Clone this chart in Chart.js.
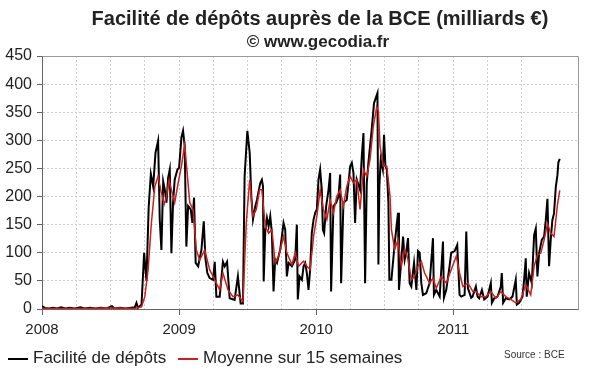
<!DOCTYPE html>
<html lang="fr">
<head>
<meta charset="utf-8">
<title>Facilité de dépôts auprès de la BCE</title>
<script src="https://cdn.jsdelivr.net/npm/chart.js"></script>
<style>
    body { margin: 0; background: #fff; }
    #wrap { position: relative; width: 600px; height: 372px; overflow: hidden;
            font-family: "Liberation Sans", Arial, sans-serif; color: #222; }
    #chart { position: absolute; left: 0; top: 0; }
    .title { position: absolute; left: 40px; width: 560px; top: 6px; text-align: center;
             font-weight: bold; font-size: 20px; line-height: 24px; white-space: nowrap; }
    .subtitle { position: absolute; left: 36px; width: 564px; top: 32px; text-align: center;
                font-weight: bold; font-size: 17px; line-height: 20px; white-space: nowrap; }
    #legend { position: absolute; left: 8px; top: 348px; font-size: 17px; line-height: 20px; white-space: nowrap; }
    #legend .item { display: inline-block; }
    #legend .item + .item { margin-left: 7px; }
    #legend i { display: inline-block; width: 20px; height: 2px; vertical-align: middle; margin-right: 5px; }
    .source { position: absolute; left: 504px; top: 348px; font-size: 10px; line-height: 14px; color: #333; }
</style>
</head>
<body>
<div id="wrap">
    <canvas id="chart" width="600" height="372"></canvas>
    <div class="title">Facilité de dépôts auprès de la BCE (milliards €)</div>
    <div class="subtitle">© www.gecodia.fr</div>
    <div id="legend">
        <span class="item"><i style="background:#000"></i>Facilité de dépôts</span>
        <span class="item"><i style="background:#cc1f1f"></i>Moyenne sur 15 semaines</span>
    </div>
    <div class="source">Source : BCE</div>
</div>
<script>
// dates en années décimales, valeurs en milliards d'euros
const depotYears = [
    2008.000, 2008.020, 2008.050, 2008.080, 2008.110, 2008.140, 2008.170, 2008.200, 2008.240, 2008.280,
    2008.310, 2008.350, 2008.390, 2008.430, 2008.470, 2008.510, 2008.530, 2008.570, 2008.610, 2008.640,
    2008.677, 2008.689, 2008.700, 2008.726, 2008.745, 2008.762, 2008.778, 2008.794, 2008.811, 2008.828,
    2008.847, 2008.859, 2008.871, 2008.884, 2008.896, 2008.908, 2008.920, 2008.932, 2008.944, 2008.956,
    2008.968, 2008.988, 2009.000, 2009.017, 2009.029, 2009.041, 2009.053, 2009.066, 2009.085, 2009.097,
    2009.109, 2009.121, 2009.139, 2009.163, 2009.180, 2009.192, 2009.206, 2009.223, 2009.248, 2009.260,
    2009.272, 2009.296, 2009.320, 2009.333, 2009.350, 2009.369, 2009.405, 2009.429, 2009.449, 2009.466,
    2009.478, 2009.498, 2009.515, 2009.527, 2009.539, 2009.556, 2009.568, 2009.592, 2009.604, 2009.612,
    2009.617, 2009.629, 2009.641, 2009.653, 2009.665, 2009.677, 2009.689, 2009.701, 2009.714, 2009.738,
    2009.762, 2009.774, 2009.786, 2009.799, 2009.823, 2009.847, 2009.859, 2009.866, 2009.879, 2009.896,
    2009.908, 2009.920, 2009.932, 2009.944, 2009.956, 2009.968, 2009.981, 2009.993, 2010.005, 2010.017,
    2010.029, 2010.041, 2010.049, 2010.058, 2010.073, 2010.090, 2010.102, 2010.109, 2010.126, 2010.146,
    2010.163, 2010.175, 2010.182, 2010.199, 2010.223, 2010.248, 2010.260, 2010.272, 2010.284, 2010.296,
    2010.320, 2010.333, 2010.345, 2010.357, 2010.369, 2010.381, 2010.405, 2010.422, 2010.430, 2010.447,
    2010.454, 2010.461, 2010.471, 2010.486, 2010.495, 2010.505, 2010.515, 2010.527, 2010.534, 2010.549,
    2010.573, 2010.597, 2010.604, 2010.621, 2010.634, 2010.646, 2010.658, 2010.670, 2010.682, 2010.694,
    2010.714, 2010.731, 2010.743, 2010.755, 2010.767, 2010.779, 2010.803, 2010.828, 2010.852, 2010.859,
    2010.876, 2010.901, 2010.925, 2010.932, 2010.949, 2010.973, 2010.985, 2011.010, 2011.029, 2011.046,
    2011.058, 2011.083, 2011.095, 2011.107, 2011.131, 2011.141, 2011.165, 2011.177, 2011.189, 2011.209,
    2011.226, 2011.250, 2011.274, 2011.282, 2011.299, 2011.323, 2011.347, 2011.354, 2011.364, 2011.383,
    2011.408, 2011.432, 2011.456, 2011.464, 2011.481, 2011.505, 2011.517, 2011.529, 2011.536, 2011.553,
    2011.573, 2011.590, 2011.602, 2011.614, 2011.626, 2011.646, 2011.663, 2011.675, 2011.687, 2011.699,
    2011.711, 2011.723, 2011.735, 2011.748, 2011.760, 2011.767, 2011.777
];
const depotValues = [
    5, 2, 1, 2, 1, 3, 1, 2, 1, 3,
    1, 2, 1, 2, 1, 5, 1, 2, 1, 2,
    3, 11, 2, 8, 100, 50, 180, 240, 218, 278,
    299, 159, 105, 227, 212, 189, 233, 248, 99, 189,
    230, 248, 251, 305, 317, 290, 111, 183, 177, 153,
    198, 82, 76, 105, 156, 90, 64, 55, 52, 84,
    22, 22, 84, 76, 84, 19, 16, 58, 10, 10,
    236, 317, 278, 200, 159, 183, 194, 224, 230, 218,
    49, 141, 162, 147, 165, 135, 31, 88, 82, 106,
    153, 141, 58, 82, 76, 88, 150, 17, 58, 52,
    76, 82, 64, 34, 70, 135, 159, 171, 177, 230,
    248, 212, 141, 135, 183, 212, 242, 31, 183, 189,
    200, 239, 46, 189, 194, 254, 260, 242, 153, 230,
    212, 272, 313, 46, 224, 260, 319, 366, 372, 384,
    79, 218, 266, 248, 310, 254, 248, 189, 52, 52,
    117, 171, 34, 88, 129, 88, 103, 126, 46, 40,
    82, 34, 103, 100, 46, 25, 28, 46, 126, 25,
    34, 22, 120, 20, 34, 76, 100, 103, 114, 25,
    22, 25, 138, 37, 20, 22, 40, 22, 19, 34,
    17, 22, 46, 11, 19, 22, 40, 64, 11, 19,
    17, 22, 52, 8, 11, 22, 52, 90, 22, 64,
    46, 132, 143, 58, 99, 123, 129, 158, 196, 76,
    123, 158, 170, 217, 238, 261, 267
];

const moyenneYears = [
    2008.000, 2008.300, 2008.500, 2008.677, 2008.726, 2008.750, 2008.774, 2008.798, 2008.823, 2008.847,
    2008.866, 2008.891, 2008.908, 2008.927, 2008.944, 2008.968, 2008.993, 2009.017, 2009.041, 2009.061,
    2009.078, 2009.102, 2009.126, 2009.150, 2009.187, 2009.223, 2009.260, 2009.296, 2009.320, 2009.357,
    2009.393, 2009.429, 2009.466, 2009.490, 2009.515, 2009.539, 2009.563, 2009.587, 2009.604, 2009.629,
    2009.653, 2009.677, 2009.701, 2009.726, 2009.762, 2009.786, 2009.823, 2009.847, 2009.871, 2009.908,
    2009.932, 2009.956, 2009.981, 2010.005, 2010.029, 2010.053, 2010.078, 2010.102, 2010.126, 2010.150,
    2010.175, 2010.199, 2010.223, 2010.248, 2010.272, 2010.296, 2010.320, 2010.345, 2010.369, 2010.393,
    2010.417, 2010.442, 2010.454, 2010.466, 2010.490, 2010.515, 2010.539, 2010.549, 2010.573, 2010.597,
    2010.621, 2010.646, 2010.670, 2010.694, 2010.719, 2010.743, 2010.767, 2010.791, 2010.828, 2010.852,
    2010.876, 2010.913, 2010.949, 2010.985, 2011.022, 2011.046, 2011.070, 2011.107, 2011.143, 2011.165,
    2011.201, 2011.238, 2011.274, 2011.311, 2011.347, 2011.383, 2011.420, 2011.456, 2011.493, 2011.529,
    2011.565, 2011.590, 2011.614, 2011.638, 2011.663, 2011.687, 2011.711, 2011.735, 2011.760, 2011.777
];
const moyenneValues = [
    1, 1, 2, 1, 4, 22, 70, 153, 218, 236,
    212, 186, 200, 230, 212, 189, 224, 254, 293, 236,
    189, 177, 105, 87, 105, 70, 52, 34, 64, 34,
    22, 25, 13, 153, 230, 165, 177, 212, 212, 147,
    135, 141, 82, 94, 129, 100, 79, 100, 76, 85,
    76, 70, 129, 165, 212, 177, 159, 194, 171, 200,
    212, 183, 218, 236, 224, 230, 177, 248, 236, 266,
    325, 360, 352, 289, 254, 254, 200, 141, 106, 123,
    76, 106, 88, 52, 58, 76, 85, 64, 46, 55,
    37, 58, 46, 70, 94, 64, 40, 46, 31, 31,
    22, 22, 31, 19, 31, 22, 17, 11, 17, 43,
    25, 76, 96, 99, 123, 152, 135, 129, 185, 211
];

const yearLabels = [2008, 2009, 2010, 2011];
const xMin = 2008;
const xMax = 2011.91;

const isYear = v => yearLabels.some(y => Math.abs(v - y) < 1e-6);
const toPoints = (xs, ys) => xs.map((x, i) => ({x: x, y: ys[i]}));

Chart.defaults.font.family = '"Liberation Sans", Arial, sans-serif';

// cadre gris en haut et à droite de la zone de tracé
const framePlugin = {
    id: 'frame',
    beforeDatasetsDraw(chart) {
        const {ctx, chartArea: a} = chart;
        ctx.save();
        ctx.strokeStyle = '#999';
        ctx.lineWidth = 1;
        ctx.beginPath();
        ctx.moveTo(Math.round(a.left) + 0.5, Math.round(a.top) + 0.5);
        ctx.lineTo(Math.round(a.right) + 0.5, Math.round(a.top) + 0.5);
        ctx.lineTo(Math.round(a.right) + 0.5, Math.round(a.bottom) + 0.5);
        ctx.stroke();
        ctx.restore();
    }
};

new Chart(document.getElementById('chart').getContext('2d'), {
    type: 'line',
    data: {
        datasets: [{
            label: 'Moyenne sur 15 semaines',
            data: toPoints(moyenneYears, moyenneValues),
            borderColor: '#cc1f1f',
            borderWidth: 1.5,
            pointRadius: 0,
            tension: 0
        }, {
            label: 'Facilité de dépôts',
            data: toPoints(depotYears, depotValues),
            borderColor: '#000',
            borderWidth: 2,
            pointRadius: 0,
            tension: 0
        }]
    },
    options: {
        responsive: false,
        animation: false,
        devicePixelRatio: 1,
        layout: {padding: {left: 0, right: 22, top: 56, bottom: 33}},
        plugins: {
            legend: {display: false},
            tooltip: {enabled: false}
        },
        scales: {
            x: {
                type: 'linear',
                min: xMin,
                max: xMax,
                afterFit: scale => { scale.height = 30; },
                border: {color: '#666', width: 1, dash: [2, 2]},
                grid: {
                    color: c => (c.index === 0 || !c.tick || c.tick.value > 2011.8) ? 'transparent' : '#cdcdcd',
                    tickLength: 6,
                    tickColor: c => (c.tick && isYear(c.tick.value)) ? '#666' : 'transparent'
                },
                ticks: {
                    stepSize: 0.25,
                    autoSkip: false,
                    maxRotation: 0,
                    padding: 6,
                    color: '#222',
                    font: {size: 15},
                    callback: v => isYear(v) ? String(Math.round(v)) : ''
                }
            },
            y: {
                min: 0,
                max: 450,
                afterFit: scale => { scale.width = 42; },
                border: {color: '#666', width: 1, dash: [2, 2]},
                grid: {
                    color: c => (!c.tick || c.tick.value === 0 || c.tick.value === 450) ? 'transparent' : '#cdcdcd',
                    tickLength: 5,
                    tickColor: '#666'
                },
                ticks: {stepSize: 50, padding: 5, color: '#222', font: {size: 16}}
            }
        }
    },
    plugins: [framePlugin]
});
</script>
</body>
</html>
